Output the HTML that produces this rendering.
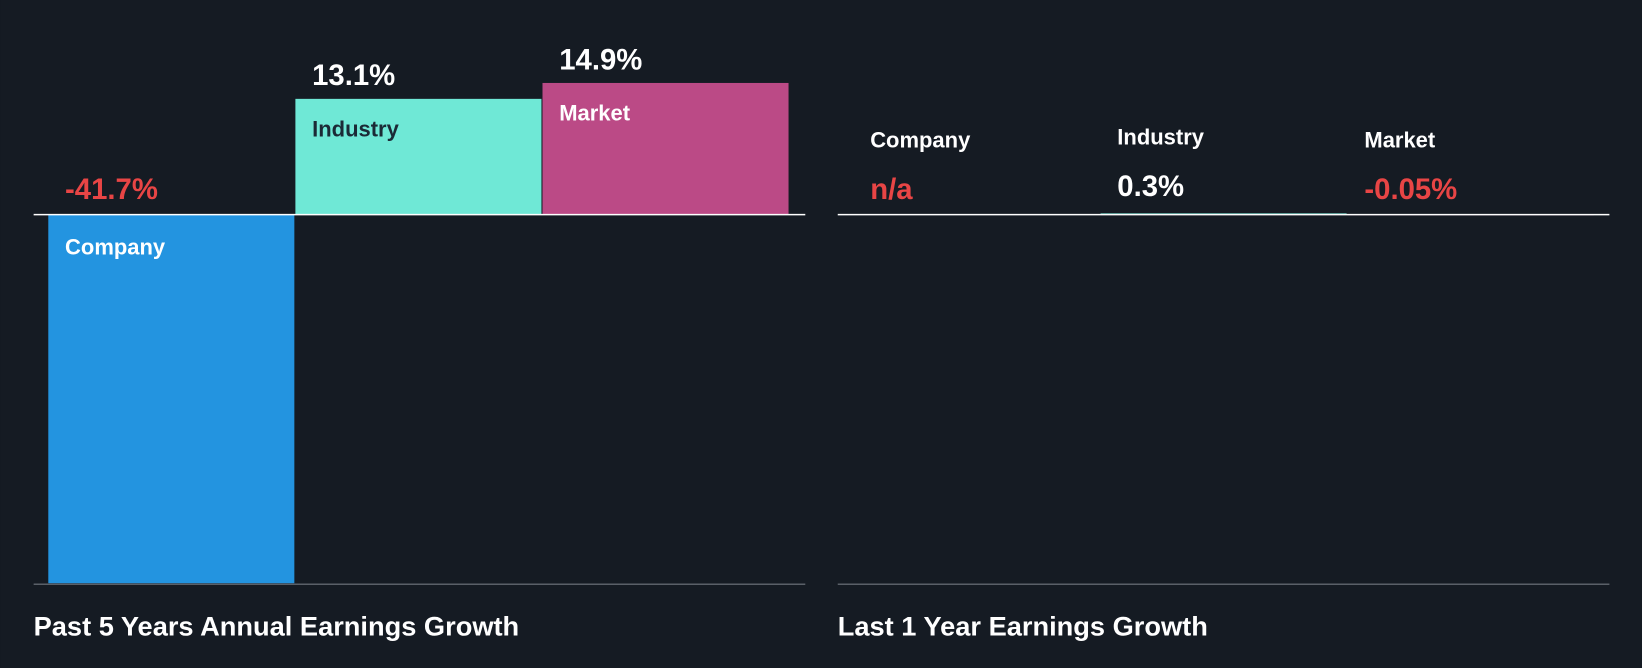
<!DOCTYPE html>
<html><head><meta charset="utf-8"><style>
html,body{margin:0;padding:0;background:#151b23;}
svg{display:block;font-family:"Liberation Sans",sans-serif;font-weight:bold;}
</style></head><body>
<svg id="chart" width="1642" height="668" viewBox="0 0 1568 638" xmlns="http://www.w3.org/2000/svg">
<rect x="0" y="0" width="1568" height="638" fill="#151b23"/>
<g id="left"></g>
<g id="right"></g>
<text x="32" y="607" fill="#ffffff" font-size="26">Past 5 Years Annual Earnings Growth</text>
<text x="800" y="607" fill="#ffffff" font-size="26">Last 1 Year Earnings Growth</text>
</svg>
<script>
const categories = ["Company", "Industry", "Market"];
const fiveYearValues = [-41.7, 13.1, 14.9];
const fiveYearLabels = ["-41.7%", "13.1%", "14.9%"];
const oneYearValues = [null, 0.3, -0.05];
const oneYearLabels = ["n/a", "0.3%", "-0.05%"];
const colors = ["#2394e0", "#6fe8d6", "#bb4a86"];
const NS = "http://www.w3.org/2000/svg";
const baseY = 205;
function mk(tag, attrs, parent){const e=document.createElementNS(NS,tag);for(const k in attrs)e.setAttribute(k,attrs[k]);parent.appendChild(e);return e;}
// left chart
const L = document.getElementById("left");
const leftX0 = 46, bw = 236, scaleL = 352/41.7;
const y = v => baseY - v*scaleL;
fiveYearValues.forEach((v,i)=>{
  const x = leftX0 + i*bw;
  const top = Math.min(y(v), baseY), h = Math.abs(y(v)-baseY);
  const r = mk("rect",{x:x,y:top,width:bw-1,height:h,fill:colors[i]},L);
  
  
  const neg = v<0;
  const vt = mk("text",{x:x+16,y:neg?baseY-15:top-13,fill:neg?"#e84545":"#ffffff","font-size":28},L);
  vt.textContent = fiveYearLabels[i];
  
  
  const lt = mk("text",{x:x+16,y:neg?baseY+38:top+36,fill:i===1?"#1b2a36":"#ffffff","font-size":21},L);
  lt.textContent = categories[i];
  
  
});
const l1 = mk("line",{x1:32,x2:769,y1:baseY,y2:baseY,stroke:"#ffffff","stroke-width":1.5},L);


const l2 = mk("line",{x1:32,x2:769,y1:558,y2:558,stroke:"#5a6068","stroke-width":1.5},L);


// right chart
const R = document.getElementById("right");
const rightX0 = 815, scaleR = 4;
oneYearValues.forEach((v,i)=>{
  const x = rightX0 + i*bw;
  if(v!==null){
    const h = Math.max(Math.abs(v*scaleR),0.5);
    const r = mk("rect",{x:x,y:v>=0?baseY-h:baseY,width:bw-1,height:h,fill:colors[i]},R);
    
    
  }
  const neg = v===null || v<0;
  const vt = mk("text",{x:x+16,y:i===1?187:190,fill:neg?"#e84545":"#ffffff","font-size":28},R);
  vt.textContent = oneYearLabels[i];
  
  
  const lt = mk("text",{x:x+16,y:i===1?138:141,fill:"#ffffff","font-size":21},R);
  lt.textContent = categories[i];
  
  
});
const r1 = mk("line",{x1:800,x2:1537,y1:baseY,y2:baseY,stroke:"#ffffff","stroke-width":1.5},R);


const r2 = mk("line",{x1:800,x2:1537,y1:558,y2:558,stroke:"#5a6068","stroke-width":1.5},R);


</script>
</body></html>
